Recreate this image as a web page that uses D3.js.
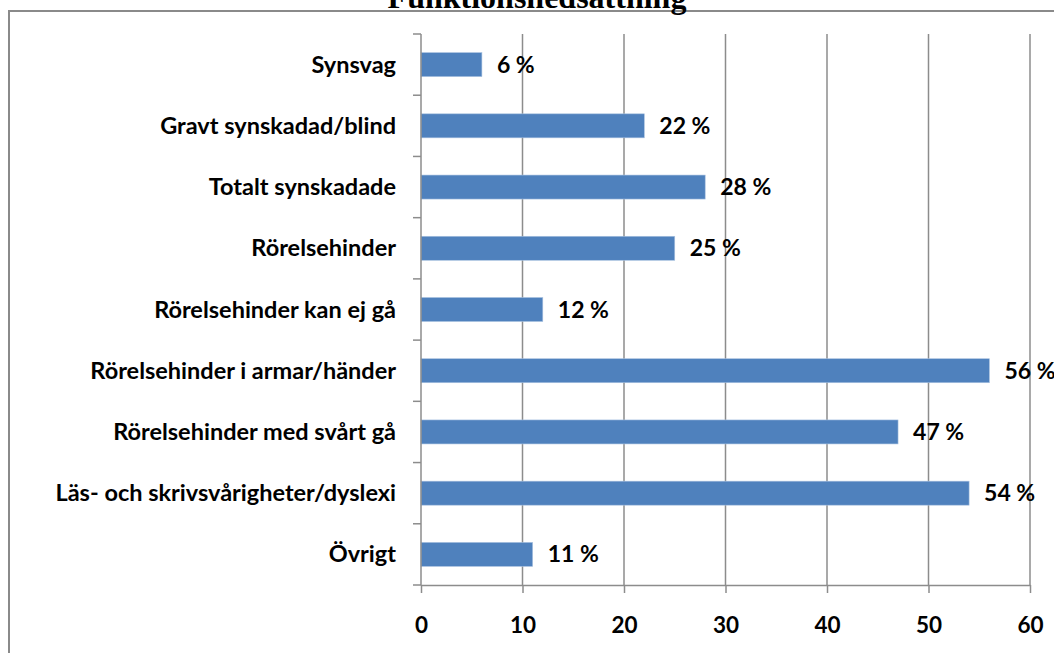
<!DOCTYPE html>
<html>
<head>
<meta charset="utf-8">
<script src="https://cdn.jsdelivr.net/npm/d3@7"></script>
<style>
  body { margin: 0; background: #fff; }
  text { font-family: Lato, "Open Sans", sans-serif; font-weight: bold; fill: #000; }
</style>
</head>
<body>
<div id="chart"></div>
<script>
// data
var categories = ["Synsvag", "Gravt synskadad/blind", "Totalt synskadade", "Rörelsehinder",
  "Rörelsehinder kan ej gå", "Rörelsehinder i armar/händer", "Rörelsehinder med svårt gå",
  "Läs- och skrivsvårigheter/dyslexi", "Övrigt"];
var values = [6, 22, 28, 25, 12, 56, 47, 54, 11];
var xTicks = [0, 10, 20, 30, 40, 50, 60];
var title = "Funktionsnedsättning";

var W = 1054, H = 653;
var margin = {top: 34, left: 421, right: 24, bottom: 68};

var svg = d3.select("#chart").append("svg")
    .attr("width", W)
    .attr("height", H);

// outer frame (runs off the right and bottom edges)
svg.append("rect")
    .attr("x", 9).attr("y", 11)
    .attr("width", 1200).attr("height", 800)
    .attr("fill", "none")
    .attr("stroke", "#8a8a8a")
    .attr("stroke-width", 2);

// title, mostly cut off at the top
svg.append("text")
    .attr("x", 537).attr("y", 8)
    .attr("text-anchor", "middle")
    .style("font-family", "'Liberation Serif', 'Times New Roman', serif")
    .style("font-size", "32px")
    .text(title);

var x = d3.scaleLinear().domain([0, 60]).range([margin.left, W - margin.right]);
var yb = d3.scaleBand().domain(categories).range([margin.top, H - margin.bottom]);

// gridlines
svg.append("g")
  .selectAll("line")
  .data(xTicks.slice(1))
  .enter().append("line")
    .attr("x1", function(d) { return x(d); })
    .attr("x2", function(d) { return x(d); })
    .attr("y1", margin.top)
    .attr("y2", H - margin.bottom)
    .attr("stroke", "#8c8c8c")
    .attr("stroke-width", 1.5);

// bars
svg.append("g")
  .selectAll("rect")
  .data(values)
  .enter().append("rect")
    .attr("x", x(0))
    .attr("y", function(d, i) { return yb(categories[i]) + yb.bandwidth() / 2 - 12; })
    .attr("width", function(d) { return x(d) - x(0); })
    .attr("height", 24)
    .attr("fill", "#4f81bd")
    .attr("stroke", "#a9c2e0")
    .attr("stroke-width", 0.6);

// value labels
svg.append("g")
  .selectAll("text")
  .data(values)
  .enter().append("text")
    .attr("x", function(d) { return x(d) + 15; })
    .attr("y", function(d, i) { return yb(categories[i]) + yb.bandwidth() / 2 + 8; })
    .style("font-size", "23px")
    .text(function(d) { return d + " %"; });

// y axis with category ticks between bands
var yAxis = svg.append("g")
    .attr("transform", "translate(" + margin.left + ",0)");
yAxis.append("line")
    .attr("x1", 0).attr("x2", 0)
    .attr("y1", margin.top).attr("y2", H - margin.bottom)
    .attr("stroke", "#8c8c8c").attr("stroke-width", 1.5);
yAxis.selectAll(".tk")
  .data(categories.concat(["end"]))
  .enter().append("line")
    .attr("x1", -8).attr("x2", 0)
    .attr("y1", function(d, i) { return margin.top + i * yb.step(); })
    .attr("y2", function(d, i) { return margin.top + i * yb.step(); })
    .attr("stroke", "#8c8c8c").attr("stroke-width", 1.5);
yAxis.selectAll(".lbl")
  .data(categories)
  .enter().append("text")
    .attr("x", -25)
    .attr("y", function(d) { return yb(d) + yb.bandwidth() / 2 + 8; })
    .attr("text-anchor", "end")
    .style("font-size", "23.5px")
    .text(function(d) { return d; });

// x axis
var xAxis = svg.append("g")
    .attr("transform", "translate(0," + (H - margin.bottom) + ")")
    .call(d3.axisBottom(x).tickValues(xTicks).tickSize(8).tickPadding(24).tickSizeOuter(0));
xAxis.select(".domain").attr("stroke", "#8c8c8c").attr("stroke-width", 1.5);
xAxis.selectAll(".tick line").attr("stroke", "#8c8c8c").attr("stroke-width", 1.5);
xAxis.selectAll(".tick text")
    .style("font-family", "Lato, 'Open Sans', sans-serif")
    .style("font-size", "22.5px")
    .style("font-weight", "bold")
    .attr("fill", "#000");
</script>
</body>
</html>
